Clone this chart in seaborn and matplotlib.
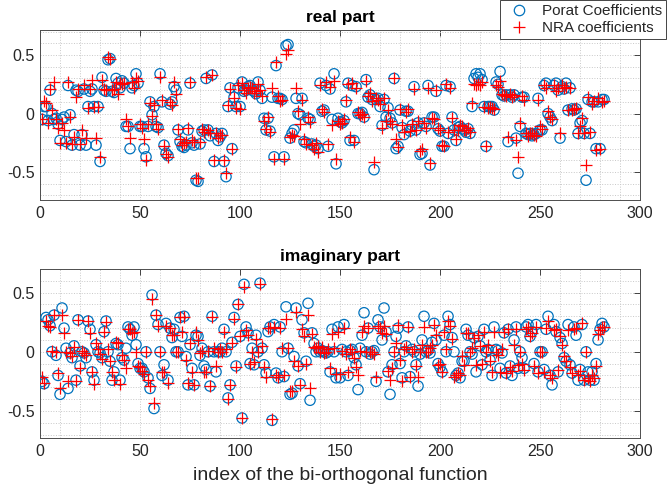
import numpy as np
import pandas as pd
import matplotlib
matplotlib.use("Agg")
import matplotlib.pyplot as plt
import seaborn as sns
from matplotlib.ticker import MultipleLocator, FixedLocator
from matplotlib.lines import Line2D

# Expansion coefficients, real part
porat_real = [
    -0.05, 0.06, 0.06, -0.06, 0.2, 0.0, -0.05, -0.04, -0.09, -0.23,
    -0.05, -0.03, -0.24, 0.24, -0.01, -0.27, -0.18, 0.2, 0.19, -0.27,
    -0.18, 0.21, -0.27, 0.06, 0.19, 0.21, 0.06, -0.27, 0.06, -0.41,
    0.31, 0.2, 0.19, 0.46, 0.47, 0.19, 0.18, 0.3, 0.26, 0.22,
    0.28, 0.26, -0.11, -0.11, -0.3, 0.22, 0.24, 0.34, 0.26, -0.11,
    -0.11, -0.3, -0.37, -0.11, 0.1, -0.01, 0.06, -0.11, -0.12, 0.34,
    0.1, -0.27, -0.34, -0.36, 0.08, 0.1, 0.23, 0.2, -0.14, -0.24,
    -0.28, -0.29, -0.27, -0.14, 0.26, -0.25, -0.27, -0.57, -0.58, -0.26,
    -0.15, -0.14, 0.3, -0.14, -0.19, 0.33, -0.41, -0.17, -0.23, -0.2,
    -0.17, -0.41, -0.54, 0.06, 0.22, -0.3, 0.14, 0.06, 0.22, 0.06,
    0.27, 0.19, 0.2, 0.23, 0.24, 0.2, 0.19, 0.17, 0.27, 0.2,
    0.13, -0.04, -0.14, -0.04, -0.15, 0.14, -0.37, 0.41, 0.13, 0.13,
    0.12, -0.37, 0.58, 0.59, -0.21, -0.17, -0.14, 0.13, 0.0, -0.01,
    0.13, -0.24, -0.25, -0.04, -0.05, -0.26, -0.28, -0.27, -0.3, 0.26,
    0.02, 0.03, 0.24, -0.28, 0.21, -0.05, 0.34, -0.43, -0.04, -0.07,
    -0.08, -0.06, 0.1, 0.26, -0.23, 0.24, -0.23, 0.23, 0.0, 0.0,
    0.01, -0.03, 0.29, 0.14, 0.16, 0.12, -0.48, 0.12, 0.13, 0.06,
    -0.1, 0.12, -0.03, 0.05, -0.04, -0.08, 0.3, -0.3, -0.28, 0.03,
    -0.12, -0.18, 0.02, 0.02, -0.15, -0.1, 0.23, -0.14, -0.08, -0.35,
    -0.34, -0.08, -0.11, 0.24, -0.44, -0.03, -0.03, 0.19, -0.13, -0.15,
    -0.28, -0.28, 0.24, -0.17, 0.23, -0.03, -0.14, -0.23, -0.12, -0.11,
    -0.13, -0.14, -0.16, -0.13, -0.17, 0.06, 0.3, 0.34, 0.31, 0.34,
    0.29, 0.06, -0.28, 0.06, 0.06, 0.06, 0.03, 0.27, 0.25, 0.36,
    0.16, 0.15, 0.16, -0.24, 0.16, 0.14, 0.16, -0.21, -0.51, -0.11,
    0.14, 0.14, -0.17, -0.18, -0.17, -0.19, -0.18, -0.17, 0.13, -0.14,
    -0.14, 0.24, 0.26, 0.0, -0.03, -0.06, 0.24, 0.26, 0.2, -0.21,
    0.23, 0.21, 0.26, 0.03, 0.22, 0.04, 0.03, 0.04, -0.17, -0.08,
    -0.06, -0.17, -0.57, 0.12, -0.17, 0.1, 0.1, -0.3, 0.1, -0.3,
    0.12, 0.12,
]
nra_real = [
    -0.05, 0.11, 0.09, -0.08, 0.21, 0.03, 0.27, -0.05, -0.12, -0.25,
    -0.08, -0.14, -0.25, 0.27, -0.03, -0.26, -0.2, 0.14, 0.21, -0.26,
    -0.14, 0.24, -0.21, 0.05, 0.21, 0.29, 0.06, -0.21, 0.06, -0.37,
    0.29, 0.21, 0.2, 0.48, 0.47, 0.2, 0.21, 0.27, 0.17, 0.26,
    0.25, 0.26, -0.05, -0.11, -0.21, 0.27, 0.22, 0.3, 0.28, -0.09,
    -0.12, -0.22, -0.4, -0.09, 0.09, -0.02, 0.07, -0.09, -0.13, 0.31,
    0.12, -0.28, -0.35, -0.37, 0.1, 0.07, 0.27, 0.17, -0.13, -0.22,
    -0.27, -0.25, -0.24, -0.12, 0.27, -0.23, -0.24, -0.55, -0.55, -0.24,
    -0.13, -0.16, 0.31, -0.14, -0.17, 0.33, -0.4, -0.17, -0.21, -0.18,
    -0.18, -0.4, -0.51, 0.07, 0.21, -0.3, 0.13, 0.05, 0.24, 0.04,
    0.26, 0.2, 0.18, 0.22, 0.23, 0.22, 0.18, 0.19, 0.25, 0.2,
    0.15, -0.06, -0.13, -0.03, -0.16, 0.22, -0.39, 0.44, 0.15, 0.11,
    0.12, -0.39, 0.51, 0.54, -0.2, -0.18, -0.19, 0.22, 0.02, -0.09,
    0.12, -0.22, -0.26, -0.03, -0.07, -0.27, -0.3, -0.25, -0.33, 0.24,
    0.04, 0.01, 0.27, -0.26, 0.23, -0.1, 0.28, -0.39, -0.06, -0.09,
    -0.08, -0.05, 0.12, 0.25, -0.2, 0.26, -0.24, 0.22, 0.01, -0.01,
    0.0, -0.03, 0.28, 0.15, 0.18, 0.11, -0.41, 0.13, 0.12, 0.08,
    -0.12, 0.13, -0.06, 0.03, -0.06, -0.09, 0.3, -0.22, -0.29, 0.04,
    -0.1, -0.16, 0.01, 0.04, -0.15, -0.09, 0.21, -0.14, -0.06, -0.32,
    -0.3, -0.08, -0.12, 0.22, -0.42, -0.04, -0.05, 0.2, -0.12, -0.14,
    -0.27, -0.28, 0.25, -0.16, 0.22, -0.04, -0.14, -0.22, -0.14, -0.1,
    -0.11, -0.14, -0.14, -0.12, -0.16, 0.09, 0.25, 0.24, 0.25, 0.24,
    0.27, 0.06, -0.28, 0.05, 0.06, 0.05, 0.04, 0.24, 0.23, 0.28,
    0.17, 0.16, 0.15, -0.2, 0.17, 0.14, 0.16, -0.23, -0.37, -0.08,
    0.15, 0.12, -0.17, -0.19, -0.17, -0.17, -0.18, -0.19, 0.12, -0.11,
    -0.13, 0.24, 0.22, 0.02, -0.03, -0.05, 0.24, 0.19, 0.22, -0.17,
    0.24, 0.22, 0.23, 0.03, 0.22, 0.03, 0.04, 0.05, -0.17, -0.11,
    -0.04, -0.17, -0.44, 0.14, -0.16, 0.08, 0.11, -0.31, 0.13, -0.3,
    0.1, 0.11,
]

# Expansion coefficients, imaginary part
porat_imag = [
    -0.25, -0.27, 0.29, 0.27, 0.22, 0.0, 0.31, -0.03, -0.2, -0.36,
    0.37, 0.2, 0.03, -0.31, -0.01, -0.05, 0.05, -0.24, 0.27, -0.12,
    0.0, -0.01, -0.05, 0.26, 0.19, -0.17, -0.24, 0.06, 0.0, -0.01,
    -0.05, 0.17, 0.26, 0.0, -0.08, -0.24, -0.17, 0.07, 0.06, -0.24,
    -0.05, -0.07, 0.03, 0.21, 0.19, 0.14, 0.21, 0.06, -0.1, -0.14,
    -0.14, -0.17, 0.0, -0.22, -0.31, 0.48, -0.48, 0.31, 0.23, 0.0,
    -0.2, -0.11, 0.24, -0.24, 0.2, 0.12, 0.19, 0.0, 0.0, 0.29,
    0.13, 0.3, -0.04, -0.28, 0.06, -0.14, -0.28, 0.14, 0.13, -0.03,
    0.03, -0.12, -0.15, 0.0, -0.29, 0.3, 0.0, -0.17, 0.0, 0.0,
    0.03, 0.19, 0.0, -0.39, -0.28, 0.08, 0.29, -0.12, 0.4, 0.13,
    -0.56, 0.57, 0.21, 0.16, -0.1, 0.03, -0.11, 0.14, 0.0, 0.58,
    0.03, -0.11, -0.18, 0.17, 0.21, -0.58, 0.23, -0.18, -0.22, 0.21,
    0.0, -0.21, 0.38, 0.03, -0.36, -0.35, -0.04, 0.37, -0.12, -0.27,
    0.27, 0.16, -0.08, 0.41, -0.41, 0.16, 0.07, 0.0, 0.03, 0.0,
    0.01, 0.0, -0.01, 0.0, -0.17, 0.19, 0.0, -0.22, 0.21, -0.22,
    0.02, 0.23, 0.0, -0.2, 0.01, 0.02, -0.05, -0.11, -0.32, 0.03,
    0.14, 0.33, 0.0, 0.2, -0.02, 0.0, 0.01, -0.25, 0.27, 0.21,
    0.1, 0.37, 0.17, -0.17, -0.36, -0.11, 0.0, 0.13, 0.2, -0.1,
    -0.22, 0.0, 0.05, 0.21, -0.21, 0.02, 0.0, -0.11, -0.29, -0.02,
    0.1, 0.3, 0.0, 0.01, -0.01, 0.08, 0.24, 0.1, -0.1, -0.13,
    -0.17, 0.14, 0.0, 0.3, 0.23, 0.12, 0.0, -0.2, -0.18, -0.22,
    -0.08, -0.08, 0.19, 0.14, 0.0, -0.02, 0.12, -0.17, 0.13, 0.05,
    -0.11, 0.19, 0.0, 0.02, -0.07, -0.2, 0.21, 0.02, 0.01, -0.14,
    -0.01, 0.16, -0.18, 0.19, -0.12, -0.2, 0.1, 0.21, -0.14, 0.0,
    -0.05, -0.14, 0.21, 0.23, 0.13, 0.17, -0.1, 0.23, -0.17, 0.0,
    0.0, -0.15, 0.19, 0.3, -0.2, -0.28, 0.23, 0.17, -0.17, 0.12,
    0.07, -0.05, -0.08, 0.23, -0.11, -0.18, 0.21, 0.14, -0.24, -0.15,
    0.23, -0.24, 0.0, -0.17, -0.24, -0.17, -0.24, -0.1, 0.1, 0.19,
    0.24, 0.21,
]
nra_imag = [
    -0.21, -0.26, 0.26, 0.22, 0.21, 0.01, 0.31, 0.0, -0.18, -0.31,
    0.31, 0.16, 0.0, -0.25, -0.01, -0.04, 0.04, -0.25, 0.27, -0.14,
    0.01, -0.01, -0.03, 0.26, 0.16, -0.17, -0.27, 0.07, 0.02, -0.02,
    -0.06, 0.17, 0.25, 0.02, -0.08, -0.17, -0.24, 0.08, 0.07, -0.27,
    -0.03, -0.07, -0.14, 0.19, 0.19, 0.16, 0.17, 0.0, -0.12, -0.13,
    -0.16, -0.19, 0.0, -0.24, -0.29, 0.45, -0.43, 0.31, 0.22, 0.0,
    -0.17, -0.17, 0.22, -0.26, 0.2, 0.14, 0.14, 0.0, 0.0, 0.29,
    0.17, 0.29, -0.07, -0.26, 0.07, -0.17, -0.28, 0.17, 0.1, -0.01,
    0.01, -0.17, -0.17, 0.01, -0.29, 0.29, 0.03, -0.12, 0.0, 0.02,
    0.0, 0.17, 0.02, -0.4, -0.28, 0.07, 0.28, -0.13, 0.4, 0.13,
    -0.56, 0.55, 0.18, 0.14, -0.1, 0.0, -0.09, 0.11, 0.0, 0.57,
    0.05, -0.13, -0.21, 0.2, 0.2, -0.57, 0.21, -0.2, -0.21, 0.2,
    0.03, -0.2, 0.28, 0.03, -0.33, -0.33, -0.08, 0.34, -0.12, -0.28,
    0.19, 0.13, -0.1, 0.31, -0.31, 0.15, 0.04, 0.03, 0.05, 0.0,
    0.04, -0.01, 0.0, 0.02, -0.14, 0.15, 0.03, -0.19, 0.17, -0.19,
    0.01, 0.2, -0.02, -0.17, 0.02, 0.0, -0.05, -0.13, -0.2, 0.01,
    0.17, 0.22, 0.0, 0.2, 0.0, 0.0, -0.02, -0.21, 0.22, 0.2,
    0.16, 0.22, 0.15, -0.16, -0.24, -0.14, 0.0, 0.07, 0.23, -0.07,
    -0.25, 0.02, 0.04, 0.21, -0.21, 0.0, 0.02, -0.12, -0.21, 0.0,
    0.06, 0.21, 0.0, 0.0, 0.03, 0.06, 0.23, 0.14, -0.11, -0.1,
    -0.17, 0.17, 0.02, 0.26, 0.22, 0.11, -0.21, -0.2, -0.18, -0.2,
    -0.04, -0.11, 0.16, 0.16, 0.0, 0.03, 0.12, -0.11, 0.14, 0.05,
    -0.1, 0.17, 0.0, 0.06, -0.08, -0.17, 0.17, 0.0, -0.03, -0.17,
    0.02, 0.17, -0.18, 0.19, -0.13, -0.16, 0.06, 0.19, -0.11, 0.0,
    -0.1, -0.15, 0.19, 0.21, 0.13, 0.16, -0.12, 0.21, -0.18, 0.0,
    0.0, -0.17, 0.2, 0.26, -0.2, -0.22, 0.18, 0.19, -0.15, 0.13,
    0.06, -0.04, -0.08, 0.18, -0.13, -0.18, 0.19, 0.2, -0.2, -0.16,
    0.24, -0.24, 0.0, -0.22, -0.25, -0.2, -0.22, -0.12, 0.15, 0.18,
    0.21, 0.21,
]

x_ticks = [0, 50, 100, 150, 200, 250, 300]
y_ticks = [-0.5, 0, 0.5]
y_tick_labels = ["-0.5", "0", "0.5"]
panel_titles = ["real part", "imaginary part"]
series_labels = ["Porat Coefficients", "NRA coefficients"]
x_label = "index of the bi-orthogonal function"

BLUE = "#0072BD"
RED = "#FF0000"
TEXT = "#262626"

sns.set_style("white")
plt.rcParams["font.family"] = ["Liberation Sans", "DejaVu Sans"]
plt.rcParams["axes.unicode_minus"] = False

fig = plt.figure(figsize=(6.67, 4.99), dpi=100)
ax_re = fig.add_axes([0.060, 0.599, 0.8996, 0.341])
ax_im = fig.add_axes([0.060, 0.122, 0.8996, 0.339])

index = np.arange(1, len(porat_real) + 1)
panels = [
    (ax_re, porat_real, nra_real, panel_titles[0], (-0.74, 0.715)),
    (ax_im, porat_imag, nra_imag, panel_titles[1], (-0.73, 0.70)),
]

for ax, porat, nra, title, ylim in panels:
    df = pd.DataFrame({"index": index, "porat": porat, "nra": nra})
    sns.scatterplot(data=df, x="index", y="porat", ax=ax, marker="o", s=55,
                    facecolors="none", edgecolor=BLUE, linewidth=0.9,
                    legend=False, zorder=3)
    sns.scatterplot(data=df, x="index", y="nra", ax=ax, marker="+", s=80,
                    color=RED, linewidth=0.9, legend=False, zorder=4)

    ax.set_xlim(0, 300)
    ax.set_ylim(*ylim)
    ax.xaxis.set_major_locator(FixedLocator(x_ticks))
    ax.yaxis.set_major_locator(FixedLocator(y_ticks))
    ax.set_yticklabels(y_tick_labels)
    ax.xaxis.set_minor_locator(MultipleLocator(10))
    ax.yaxis.set_minor_locator(MultipleLocator(0.1))
    ax.grid(True, which="both", linestyle=":", color="#c8c8c8", linewidth=0.7)
    ax.set_axisbelow(True)
    ax.tick_params(which="major", direction="in", length=4, width=0.6,
                   top=True, right=True, labelsize=11.5, colors=TEXT,
                   labelcolor=TEXT, pad=4)
    ax.tick_params(which="minor", length=0)
    for sp in ax.spines.values():
        sp.set_color("#4d4d4d")
        sp.set_linewidth(0.7)
    ax.set_xlabel("")
    ax.set_ylabel("")
    ax.set_title(title, fontsize=12.5, fontweight="bold", color="black", pad=6)

ax_im.set_xlabel(x_label, fontsize=14, color=TEXT, labelpad=6)

handles = [
    Line2D([], [], linestyle="none", marker="o", markersize=7.5,
           markerfacecolor="none", markeredgecolor=BLUE, markeredgewidth=0.9),
    Line2D([], [], linestyle="none", marker="+", markersize=9,
           color=RED, markeredgewidth=0.9),
]
leg = fig.legend(handles, series_labels, loc="upper right",
                 bbox_to_anchor=(0.998, 0.999), fontsize=11, frameon=True,
                 fancybox=False, edgecolor="#262626", framealpha=1,
                 handlelength=2.0, handletextpad=0.5, borderpad=0.25,
                 labelspacing=0.2, borderaxespad=0.0)
leg.get_frame().set_linewidth(0.6)

fig.savefig("out.png", dpi=100)
